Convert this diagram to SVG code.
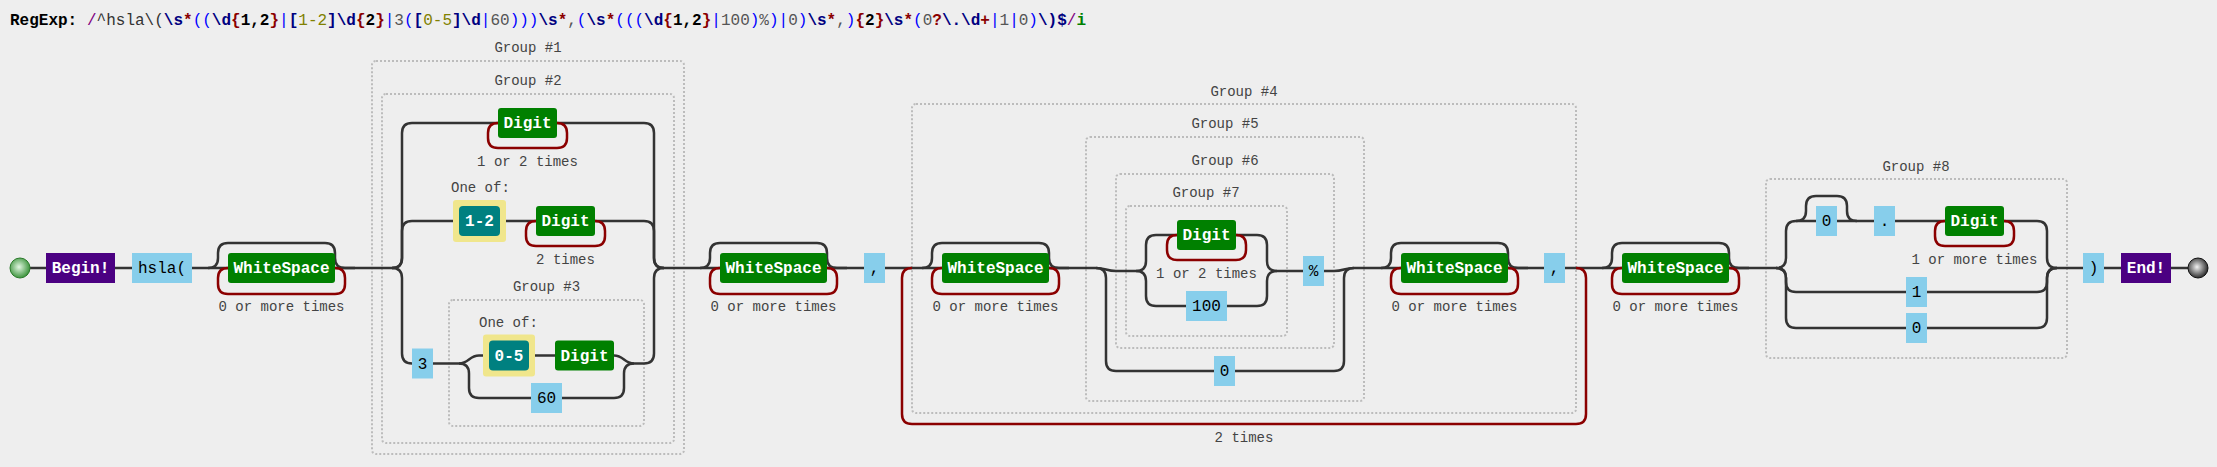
<svg xmlns="http://www.w3.org/2000/svg" width="2217" height="467" viewBox="0 0 2217 467">
<style>
.conn{fill:none;stroke:#333;stroke-width:2.5}
.loop{fill:none;stroke:#8b0000;stroke-width:2.5}
.grp{fill:none;stroke:#bcbcbc;stroke-width:2;stroke-dasharray:2,2}
.lit{fill:#87ceeb}
.esc{fill:#008000}
.anc{fill:#4b0082}
.cs{fill:#008080}
.csbg{fill:#f0e68c}
.lt{font-family:"Liberation Mono",monospace;font-size:16px;fill:#000;text-anchor:middle}
.wt{font-family:"Liberation Mono",monospace;font-size:16px;font-weight:bold;fill:#fff;text-anchor:middle}
.lbl{font-family:"Liberation Mono",monospace;font-size:14px;fill:#444;text-anchor:middle}
.lbls{font-family:"Liberation Mono",monospace;font-size:14px;fill:#444}
.hdr{font-family:"Liberation Mono",monospace;font-size:16px}
.p{fill:#800080}.d{fill:#333}.n{fill:#000080;font-weight:bold}.r{fill:#8b0000;font-weight:bold}
.b{fill:#0000ff}.k{fill:#000;font-weight:bold}.o{fill:#808000}.g{fill:#555}.gi{fill:#008000;font-weight:bold}
</style>
<defs>
<radialGradient id="gStart" cx="0.45" cy="0.45" r="0.6"><stop offset="0" stop-color="#e2f7e2"/><stop offset="1" stop-color="#2e8b2e"/></radialGradient>
<radialGradient id="gEnd" cx="0.45" cy="0.45" r="0.6"><stop offset="0" stop-color="#f2f2f2"/><stop offset="1" stop-color="#1a1a1a"/></radialGradient>
</defs>
<rect x="0" y="0" width="2217" height="467" fill="#eeeeee"/>

<g id="header">
<text class="hdr" x="10" y="25"><tspan class="k">RegExp:</tspan></text>
<text class="hdr" x="87" y="25"><tspan class="p">/</tspan><tspan class="d">^hsla\(</tspan><tspan class="n">\s</tspan><tspan class="r">*</tspan><tspan class="b">((</tspan><tspan class="n">\d</tspan><tspan class="r">{</tspan><tspan class="k">1,2</tspan><tspan class="r">}</tspan><tspan class="b">|</tspan><tspan class="n">[</tspan><tspan class="o">1-2</tspan><tspan class="n">]</tspan><tspan class="n">\d</tspan><tspan class="r">{</tspan><tspan class="k">2</tspan><tspan class="r">}</tspan><tspan class="b">|</tspan><tspan class="g">3</tspan><tspan class="b">(</tspan><tspan class="n">[</tspan><tspan class="o">0-5</tspan><tspan class="n">]</tspan><tspan class="n">\d</tspan><tspan class="b">|</tspan><tspan class="g">60</tspan><tspan class="b">)))</tspan><tspan class="n">\s</tspan><tspan class="r">*</tspan><tspan class="g">,</tspan><tspan class="b">(</tspan><tspan class="n">\s</tspan><tspan class="r">*</tspan><tspan class="b">(((</tspan><tspan class="n">\d</tspan><tspan class="r">{</tspan><tspan class="k">1,2</tspan><tspan class="r">}</tspan><tspan class="b">|</tspan><tspan class="g">100</tspan><tspan class="b">)</tspan><tspan class="g">%</tspan><tspan class="b">)|</tspan><tspan class="g">0</tspan><tspan class="b">)</tspan><tspan class="n">\s</tspan><tspan class="r">*</tspan><tspan class="g">,</tspan><tspan class="b">)</tspan><tspan class="r">{</tspan><tspan class="k">2</tspan><tspan class="r">}</tspan><tspan class="n">\s</tspan><tspan class="r">*</tspan><tspan class="b">(</tspan><tspan class="g">0</tspan><tspan class="r">?</tspan><tspan class="n">\.\d</tspan><tspan class="r">+</tspan><tspan class="b">|</tspan><tspan class="g">1</tspan><tspan class="b">|</tspan><tspan class="g">0</tspan><tspan class="b">)</tspan><tspan class="n">\)$</tspan><tspan class="p">/</tspan><tspan class="gi">i</tspan></text>
</g>

<g id="groups">
<g id="group1"><rect class="grp" x="372" y="61" width="312" height="393" rx="4"/><text class="lbl" x="528" y="52">Group #1</text></g>
<g id="group2"><rect class="grp" x="382" y="94" width="292" height="349" rx="4"/><text class="lbl" x="528" y="85">Group #2</text></g>
<g id="group3"><rect class="grp" x="449" y="300" width="195" height="126" rx="4"/><text class="lbl" x="546.5" y="291">Group #3</text></g>
<g id="group4"><rect class="grp" x="912" y="104" width="664" height="309" rx="4"/><text class="lbl" x="1244" y="96">Group #4</text></g>
<g id="group5"><rect class="grp" x="1086" y="137" width="278" height="264" rx="4"/><text class="lbl" x="1225" y="128">Group #5</text></g>
<g id="group6"><rect class="grp" x="1116" y="174" width="218" height="174" rx="4"/><text class="lbl" x="1225" y="165">Group #6</text></g>
<g id="group7"><rect class="grp" x="1126" y="206" width="161" height="130" rx="4"/><text class="lbl" x="1206" y="197">Group #7</text></g>
<g id="group8"><rect class="grp" x="1766" y="179" width="301" height="179" rx="4"/><text class="lbl" x="1916" y="171">Group #8</text></g>
</g>

<g id="connectors">
<!-- main line segments -->
<path class="conn" d="M30,268H46 M115,268H132 M192,268H228 M335,268H392 M664,268H720 M827,268H864 M885,268H942 M1049,268H1096 M1354,268H1401 M1508,268H1544 M1565,268H1622 M1729,268H1776 M2057,268H2083 M2104,268H2121 M2171,268H2188"/>
<!-- ws1 skip -->
<path class="conn" d="M208,268q10,0 10,-10V253q0,-10 10,-10H325q10,0 10,10V258q0,10 10,10H355"/>
<path class="loop" d="M335,268q10,0 10,10V284q0,10 -10,10H228q-10,0 -10,-10V278q0,-10 10,-10"/>
<!-- group2 alternation -->
<path class="conn" d="M392,268q10,0 10,-10V133q0,-10 10,-10H498 M557,123H644q10,0 10,10V258q0,10 10,10"/>
<path class="loop" d="M557,123q10,0 10,10V138q0,10 -10,10H498q-10,0 -10,-10V133q0,-10 10,-10"/>
<path class="conn" d="M392,268q10,0 10,-10V231q0,-10 10,-10H453 M506,221H536 M595,221H644q10,0 10,10V258q0,10 10,10"/>
<path class="loop" d="M595,221q10,0 10,10V236q0,10 -10,10H536q-10,0 -10,-10V231q0,-10 10,-10"/>
<path class="conn" d="M392,268q10,0 10,10V353.5q0,10 10,10 M433,363.5H459 M634,363.5H644q10,0 10,-10V278q0,-10 10,-10"/>
<!-- group3 alternation -->
<path class="conn" d="M459,363.5C469,363.5 469,355.5 479,355.5H483 M535,355.5H555 M614,355.5C624,355.5 624,363.5 634,363.5"/>
<path class="conn" d="M459,363.5q10,0 10,10V388q0,10 10,10H531 M562,398H614q10,0 10,-10V373.5q0,-10 10,-10"/>
<!-- ws2 -->
<path class="conn" d="M700,268q10,0 10,-10V253q0,-10 10,-10H817q10,0 10,10V258q0,10 10,10H847"/>
<path class="loop" d="M827,268q10,0 10,10V284q0,10 -10,10H720q-10,0 -10,-10V278q0,-10 10,-10"/>
<!-- group4 repeat 2 times -->
<path class="loop" d="M1576,268q10,0 10,10V414q0,10 -10,10H912q-10,0 -10,-10V278q0,-10 10,-10"/>
<!-- ws3 -->
<path class="conn" d="M922,268q10,0 10,-10V253q0,-10 10,-10H1039q10,0 10,10V258q0,10 10,10H1069"/>
<path class="loop" d="M1049,268q10,0 10,10V284q0,10 -10,10H942q-10,0 -10,-10V278q0,-10 10,-10"/>
<!-- group5 alternation -->
<path class="conn" d="M1096,268C1106,268 1106,271 1116,271H1136 M1277,271H1303 M1324,271H1334C1344,271 1344,268 1354,268"/>
<path class="conn" d="M1096,268q10,0 10,10V361q0,10 10,10H1214 M1235,371H1334q10,0 10,-10V278q0,-10 10,-10"/>
<!-- group7 alternation -->
<path class="conn" d="M1136,271q10,0 10,-10V245q0,-10 10,-10H1177 M1236,235H1257q10,0 10,10V261q0,10 10,10"/>
<path class="loop" d="M1236,235q10,0 10,10V250q0,10 -10,10H1177q-10,0 -10,-10V245q0,-10 10,-10"/>
<path class="conn" d="M1136,271q10,0 10,10V296q0,10 10,10H1186 M1227,306H1257q10,0 10,-10V281q0,-10 10,-10"/>
<!-- ws4 -->
<path class="conn" d="M1381,268q10,0 10,-10V253q0,-10 10,-10H1498q10,0 10,10V258q0,10 10,10H1528"/>
<path class="loop" d="M1508,268q10,0 10,10V284q0,10 -10,10H1401q-10,0 -10,-10V278q0,-10 10,-10"/>
<!-- ws5 -->
<path class="conn" d="M1602,268q10,0 10,-10V253q0,-10 10,-10H1719q10,0 10,10V258q0,10 10,10H1749"/>
<path class="loop" d="M1729,268q10,0 10,10V284q0,10 -10,10H1622q-10,0 -10,-10V278q0,-10 10,-10"/>
<!-- group8 alternation -->
<path class="conn" d="M1776,268q10,0 10,-10V231q0,-10 10,-10H1816 M1837,221H1874 M1895,221H1945 M2004,221H2037q10,0 10,10V258q0,10 10,10"/>
<path class="conn" d="M1796,221q10,0 10,-10V206q0,-10 10,-10H1837q10,0 10,10V211q0,10 10,10"/>
<path class="loop" d="M2004,221q10,0 10,10V236q0,10 -10,10H1945q-10,0 -10,-10V231q0,-10 10,-10"/>
<path class="conn" d="M1776,268q10,0 10,10V282q0,10 10,10H1906 M1927,292H2037q10,0 10,-10V278q0,-10 10,-10"/>
<path class="conn" d="M1776,268q10,0 10,10V318q0,10 10,10H1906 M1927,328H2037q10,0 10,-10V278q0,-10 10,-10"/>
</g>

<g id="start"><circle cx="20" cy="268" r="10" fill="url(#gStart)" stroke="#2a7a2a" stroke-width="1"/></g>
<g id="begin"><rect class="anc" x="46" y="253" width="69" height="30"/><text class="wt" x="80.5" y="273">Begin!</text></g>
<g id="lit-hsla"><rect class="lit" x="132" y="253" width="60" height="30"/><text class="lt" x="162" y="273">hsla(</text></g>
<g id="ws1"><rect class="esc" x="228" y="253" width="107" height="30" rx="3"/><text class="wt" x="281.5" y="273">WhiteSpace</text><text class="lbl" x="281.5" y="311">0 or more times</text></g>

<g id="digit1"><rect class="esc" x="498" y="108" width="59" height="30" rx="3"/><text class="wt" x="527.5" y="128">Digit</text><text class="lbl" x="527.5" y="166">1 or 2 times</text></g>
<g id="cs12"><text class="lbls" x="451" y="192">One of:</text><rect class="csbg" x="453" y="200" width="53" height="42" rx="3"/><rect class="cs" x="459" y="206" width="41" height="30" rx="4"/><text class="wt" x="479.5" y="226">1-2</text></g>
<g id="digit2"><rect class="esc" x="536" y="206" width="59" height="30" rx="3"/><text class="wt" x="565.5" y="226">Digit</text><text class="lbl" x="565.5" y="264">2 times</text></g>
<g id="lit3"><rect class="lit" x="412" y="348.5" width="21" height="30"/><text class="lt" x="422.5" y="368.5">3</text></g>
<g id="cs05"><text class="lbls" x="479" y="327">One of:</text><rect class="csbg" x="483" y="334.5" width="52" height="42" rx="3"/><rect class="cs" x="489" y="340.5" width="40" height="30" rx="4"/><text class="wt" x="509" y="360.5">0-5</text></g>
<g id="digit3"><rect class="esc" x="555" y="340.5" width="59" height="30" rx="3"/><text class="wt" x="584.5" y="360.5">Digit</text></g>
<g id="lit60"><rect class="lit" x="531" y="383" width="31" height="30"/><text class="lt" x="546.5" y="403">60</text></g>

<g id="ws2"><rect class="esc" x="720" y="253" width="107" height="30" rx="3"/><text class="wt" x="773.5" y="273">WhiteSpace</text><text class="lbl" x="773.5" y="311">0 or more times</text></g>
<g id="lit-comma1"><rect class="lit" x="864" y="253" width="21" height="30"/><text class="lt" x="874.5" y="273">,</text></g>
<g id="repeat4"><text class="lbl" x="1244" y="442">2 times</text></g>
<g id="ws3"><rect class="esc" x="942" y="253" width="107" height="30" rx="3"/><text class="wt" x="995.5" y="273">WhiteSpace</text><text class="lbl" x="995.5" y="311">0 or more times</text></g>
<g id="digit4"><rect class="esc" x="1177" y="220" width="59" height="30" rx="3"/><text class="wt" x="1206.5" y="240">Digit</text><text class="lbl" x="1206.5" y="278">1 or 2 times</text></g>
<g id="lit100"><rect class="lit" x="1186" y="291" width="41" height="30"/><text class="lt" x="1206.5" y="311">100</text></g>
<g id="lit-pct"><rect class="lit" x="1303" y="256" width="21" height="30"/><text class="lt" x="1313.5" y="276">%</text></g>
<g id="lit0a"><rect class="lit" x="1214" y="356" width="21" height="30"/><text class="lt" x="1224.5" y="376">0</text></g>
<g id="ws4"><rect class="esc" x="1401" y="253" width="107" height="30" rx="3"/><text class="wt" x="1454.5" y="273">WhiteSpace</text><text class="lbl" x="1454.5" y="311">0 or more times</text></g>
<g id="lit-comma2"><rect class="lit" x="1544" y="253" width="21" height="30"/><text class="lt" x="1554.5" y="273">,</text></g>
<g id="ws5"><rect class="esc" x="1622" y="253" width="107" height="30" rx="3"/><text class="wt" x="1675.5" y="273">WhiteSpace</text><text class="lbl" x="1675.5" y="311">0 or more times</text></g>

<g id="lit0b"><rect class="lit" x="1816" y="206" width="21" height="30"/><text class="lt" x="1826.5" y="226">0</text></g>
<g id="lit-dot"><rect class="lit" x="1874" y="206" width="21" height="30"/><text class="lt" x="1884.5" y="226">.</text></g>
<g id="digit5"><rect class="esc" x="1945" y="206" width="59" height="30" rx="3"/><text class="wt" x="1974.5" y="226">Digit</text><text class="lbl" x="1974.5" y="264">1 or more times</text></g>
<g id="lit1"><rect class="lit" x="1906" y="277" width="21" height="30"/><text class="lt" x="1916.5" y="297">1</text></g>
<g id="lit0c"><rect class="lit" x="1906" y="313" width="21" height="30"/><text class="lt" x="1916.5" y="333">0</text></g>
<g id="lit-rparen"><rect class="lit" x="2083" y="253" width="21" height="30"/><text class="lt" x="2093.5" y="273">)</text></g>
<g id="end"><rect class="anc" x="2121" y="253" width="50" height="30"/><text class="wt" x="2146" y="273">End!</text></g>
<g id="end-circle"><circle cx="2198" cy="268" r="10" fill="url(#gEnd)" stroke="#111" stroke-width="1"/></g>
</svg>
